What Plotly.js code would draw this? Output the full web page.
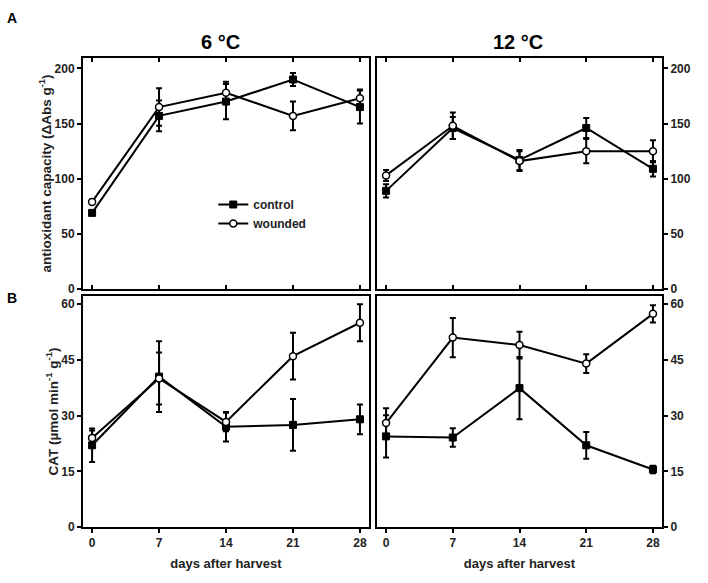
<!DOCTYPE html>
<html>
<head>
<meta charset="utf-8">
<script src="https://cdn.plot.ly/plotly-3.0.1.min.js"></script>
<style>html,body{margin:0;padding:0;background:#fff;}#chart{width:708px;height:583px;}</style>
</head>
<body>
<div id="chart"></div>
<script>
// ---- data ----
var days = [0, 7, 14, 21, 28];
var dayTicks = ['0', '7', '14', '21', '28'];

var antiox6Control = [69, 157, 170, 190, 165];
var antiox6ControlErr = [2, 14, 16, 6, 15];
var antiox6Wounded = [79, 165, 178, 157, 173];
var antiox6WoundedErr = [2, 17, 10, 13, 8];

var antiox12Control = [89, 146, 117, 146, 109];
var antiox12ControlErr = [6, 10, 9, 9, 7];
var antiox12Wounded = [103, 148, 116, 125, 125];
var antiox12WoundedErr = [5, 12, 9, 11, 10];

var cat6Control = [22, 40.5, 27, 27.5, 29];
var cat6ControlErr = [4.5, 9.5, 4, 7, 4];
var cat6Wounded = [24, 40, 28.3, 46, 55];
var cat6WoundedErr = [2, 7, 2.5, 6.3, 5];

var cat12Control = [24.4, 24.1, 37.4, 22, 15.5];
var cat12ControlErr = [5.7, 2.5, 8.4, 3.6, 1];
var cat12Wounded = [28, 51, 49, 44, 57.4];
var cat12WoundedErr = [4, 5.3, 3.6, 2.5, 2.3];

var antioxTicks = [0, 50, 100, 150, 200];
var catTicks = [0, 15, 30, 45, 60];

// ---- styles ----
var FONT = 'Liberation Sans, Arial, sans-serif';
var TXT = '#222';

function series(name, xa, ya, y, err, filled, show) {
  return {
    type: 'scatter', mode: 'lines+markers', name: name,
    x: days, y: y, xaxis: xa, yaxis: ya, showlegend: show,
    line: {color: '#000', width: 2},
    marker: filled ? {symbol: 'square', size: 7, color: '#000', line: {color: '#000', width: 1}}
                   : {symbol: 'circle', size: 7, color: '#fff', line: {color: '#000', width: 1.5}},
    error_y: {type: 'data', array: err, visible: true, color: '#000', thickness: 2, width: 3}
  };
}

var data = [
  series('control', 'x', 'y', antiox6Control, antiox6ControlErr, true, true),
  series('wounded', 'x', 'y', antiox6Wounded, antiox6WoundedErr, false, true),
  series('control', 'x2', 'y2', antiox12Control, antiox12ControlErr, true, false),
  series('wounded', 'x2', 'y2', antiox12Wounded, antiox12WoundedErr, false, false),
  series('control', 'x3', 'y3', cat6Control, cat6ControlErr, true, false),
  series('wounded', 'x3', 'y3', cat6Wounded, cat6WoundedErr, false, false),
  series('control', 'x4', 'y4', cat12Control, cat12ControlErr, true, false),
  series('wounded', 'x4', 'y4', cat12Wounded, cat12WoundedErr, false, false)
];

var xr = [-0.95, 28.95];
var tickFont = {family: FONT, size: 12, color: TXT, weight: 'bold'};
var titleFont = {family: FONT, size: 13.5, color: TXT, weight: 'bold'};

var xL = [0, 0.494], xR = [0.5078, 1];
var yT = [0.5075, 1], yB = [0, 0.4925];

function xax(dom, anchor, labels, ticksDir, mirror, title) {
  var a = {
    domain: dom, anchor: anchor, range: xr, tickvals: days, ticktext: dayTicks,
    ticks: ticksDir, ticklen: 4, tickwidth: 2, tickcolor: '#000',
    showline: true, linewidth: 2, linecolor: '#000', mirror: mirror,
    showgrid: false, zeroline: false, showticklabels: labels, tickfont: tickFont,
    fixedrange: true
  };
  if (title) a.title = {text: title, font: {family: FONT, size: 13, color: TXT, weight: 'bold'}, standoff: 9};
  return a;
}
function yax(dom, anchor, side, range, tv, title) {
  var a = {
    domain: dom, anchor: anchor, side: side, range: range, tickvals: tv,
    ticks: 'outside', ticklen: 4, tickwidth: 2, tickcolor: '#000',
    showline: true, linewidth: 2, linecolor: '#000', mirror: true,
    showgrid: false, zeroline: false, tickfont: tickFont, fixedrange: true
  };
  if (title) a.title = {text: title, font: titleFont, standoff: 0};
  return a;
}
function yIn(over, anchor, side, range, tv) {
  return {overlaying: over, anchor: anchor, side: side, range: range, tickvals: tv,
    ticks: 'inside', ticklen: 4, tickwidth: 2, tickcolor: '#000', showline: false,
    showgrid: false, zeroline: false, showticklabels: false, fixedrange: true};
}
function xIn(over, anchor, side) {
  return {overlaying: over, anchor: anchor, side: side, range: xr, tickvals: days,
    ticks: 'inside', ticklen: 4, tickwidth: 2, tickcolor: '#000', showline: false,
    showgrid: false, zeroline: false, showticklabels: false, fixedrange: true};
}

var aR = [0, 209.5], cR = [0, 62.2];

var pw = 708 - 83 - 46, ph = 583 - 58 - 56;
function px(xp) { return (xp - 83) / pw; }
function py(yp) { return (583 - 56 - yp) / ph; }

var layout = {
  width: 708, height: 583,
  margin: {l: 83, r: 46, t: 58, b: 56},
  paper_bgcolor: '#fff', plot_bgcolor: '#fff',
  font: {family: FONT, color: TXT},
  showlegend: true,
  legend: {x: 0.225, y: py(190), xanchor: 'left', yanchor: 'top', bgcolor: 'rgba(0,0,0,0)',
    font: {family: FONT, size: 12, color: TXT, weight: 'bold'}, itemwidth: 30, tracegroupgap: 0},
  xaxis: xax(xL, 'y', false, 'inside', 'ticks'),
  xaxis2: xax(xR, 'y2', false, 'inside', 'ticks'),
  xaxis3: xax(xL, 'y3', true, 'outside', true, 'days after harvest'),
  xaxis4: xax(xR, 'y4', true, 'outside', true, 'days after harvest'),
  xaxis5: xIn('x3', 'y3', 'top'),
  xaxis6: xIn('x4', 'y4', 'top'),
  yaxis: yax(yT, 'x', 'left', aR, antioxTicks, 'antioxidant capacity (ΔAbs g<sup>-1</sup>)'),
  yaxis2: yax(yT, 'x2', 'right', aR, antioxTicks),
  yaxis3: yax(yB, 'x3', 'left', cR, catTicks, 'CAT (µmol min<sup>-1</sup> g<sup>-1</sup>)'),
  yaxis4: yax(yB, 'x4', 'right', cR, catTicks),
  yaxis5: yIn('y', 'x', 'right', aR, antioxTicks),
  yaxis6: yIn('y2', 'x2', 'left', aR, antioxTicks),
  yaxis7: yIn('y3', 'x3', 'right', cR, catTicks),
  yaxis8: yIn('y4', 'x4', 'left', cR, catTicks),
  annotations: [
    {text: 'A', x: px(12), y: py(18), xref: 'paper', yref: 'paper', xanchor: 'center', yanchor: 'middle', showarrow: false,
     font: {family: FONT, size: 14, color: '#000', weight: 'bold'}},
    {text: 'B', x: px(12), y: py(298), xref: 'paper', yref: 'paper', xanchor: 'center', yanchor: 'middle', showarrow: false,
     font: {family: FONT, size: 14, color: '#000', weight: 'bold'}},
    {text: '6 °C', x: px(220), y: py(42), xref: 'paper', yref: 'paper', xanchor: 'center', yanchor: 'middle', showarrow: false,
     font: {family: FONT, size: 20, color: '#000', weight: 'bold'}},
    {text: '12 °C', x: px(518), y: py(42), xref: 'paper', yref: 'paper', xanchor: 'center', yanchor: 'middle', showarrow: false,
     font: {family: FONT, size: 20, color: '#000', weight: 'bold'}}
  ]
};

Plotly.newPlot('chart', data, layout, {displayModeBar: false, staticPlot: true});
</script>
</body>
</html>
